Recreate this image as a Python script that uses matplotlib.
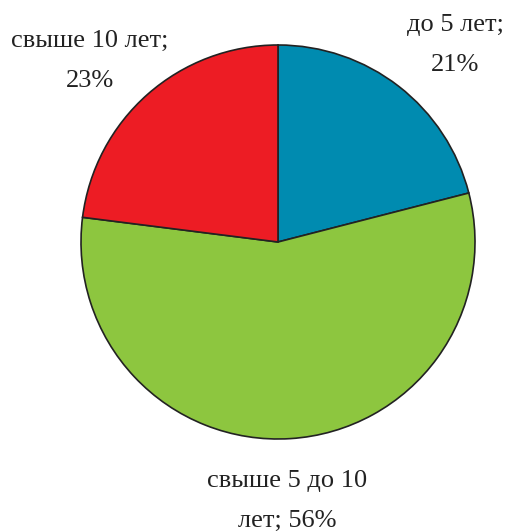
import matplotlib
matplotlib.use("Agg")
import matplotlib.pyplot as plt

labels = ["до 5 лет;\n21%", "свыше 5 до 10\nлет; 56%", "свыше 10 лет;\n23%"]
values = [21, 56, 23]
colors = ["#008BB0", "#8DC63F", "#ED1C24"]

W, H = 505, 532
fig = plt.figure(figsize=(W / 100, H / 100), dpi=100)
plt.rcParams['font.family'] = ['Liberation Serif', 'DejaVu Serif']

cx, cy, r = 278, 242, 197
ax = fig.add_axes([(cx - r) / W, (H - cy - r) / H, 2 * r / W, 2 * r / H])
ax.pie(values, colors=colors, startangle=90, counterclock=False,
       wedgeprops=dict(edgecolor="#222222", linewidth=1.2))
ax.set_xlim(-1.0, 1.0)
ax.set_ylim(-1.0, 1.0)
ax.set_aspect("equal")
ax.axis("off")

# label positions (pixel centres)
pos = [(455, 45), (287, 501), (90, 61)]
for lab, (x, y) in zip(labels, pos):
    fig.text(x / W, 1 - y / H, lab, ha="center", va="center",
             fontsize=19, linespacing=2.05, color="#222222", multialignment="center")

fig.savefig("out.png", dpi=100)
